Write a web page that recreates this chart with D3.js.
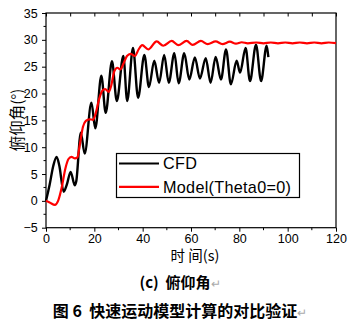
<!DOCTYPE html>
<html><head><meta charset="utf-8">
<script src="https://cdn.jsdelivr.net/npm/d3@7"></script>
<style>body{margin:0;background:#fff}svg{display:block}text{white-space:pre}</style>
</head><body><svg id="c" width="351" height="329"></svg>
<script>
// CFD series [time(s), pitch angle(deg)]
const cfdData = [[0,0],[1.5,3],[3,6.5],[4.4,8.2],[5.5,6.6],[7.3,1.7],[8.6,3],[10.2,5.4],[11.9,2.9],[12.5,3.6],[14.4,12.7],[16,8.8],[18.8,18.3],[20.4,13.5],[22.9,23.3],[24.7,16.4],[27.3,26],[29.3,18.6],[32,27],[33.6,18.6],[36,28.5],[38.1,19.2],[40.7,27.2],[42.6,21.2],[44.8,26.1],[46.8,22],[48.9,27.2],[50.8,22],[53.1,27.5],[54.9,21.9],[57.2,27.5],[59.3,22.6],[61.6,26.7],[63.7,22.8],[66.1,26.6],[68.1,22],[70.2,26.8],[72.4,22.6],[74.5,28.2],[76.5,21.7],[78.9,26.1],[80.3,23.9],[82.6,28.5],[84.4,22.3],[86.9,29.1],[89,22.3],[91.3,28.9],[92,26.8]];
// Model(Theta0=0) series
const modelData = [[0,0],[1.5,-0.3],[3.7,-0.75],[5,0],[6.5,2.5],[8,6],[9.3,7.8],[10.5,8.2],[12,7.9],[13,8.1],[14,10.5],[15.3,13.8],[16.5,14.9],[18,15.2],[19.5,15.1],[20.5,16.2],[22,19],[23.3,20.5],[24.5,20.8],[26,20.3],[27,21.5],[28.3,24.2],[29.5,24.8],[30.8,24.5],[32,25.5],[33.5,27],[35,27.4],[36.8,27],[38.3,28.2],[39.8,29],[42.3,28.2],[45.8,29.7],[48.5,28.9],[52,29.8],[54.7,29],[58.2,29.8],[60.7,29.05],[64.1,29.8],[66.9,29.2],[70.2,29.7],[73,29.2],[76.1,29.65],[78.6,29.3],[81,29.55],[83.5,29.35],[87,29.5],[90,29.35],[93,29.5],[96,29.35],[99,29.5],[102,29.35],[105,29.5],[108,29.35],[111,29.5],[114,29.35],[117,29.5],[120,29.4]];
const xTicks = [0,20,40,60,80,100,120];
const yTicks = [-5,0,5,10,15,20,25,30,35];
const seriesNames = ["CFD","Model(Theta0=0)"];
const seriesColors = ["#000000","#ff0000"];
const xTitle = "时 间(s)";
const yTitle = "俯仰角(°)";
const subCaption = "(c)  俯仰角";
const caption = "图 6  快速运动模型计算的对比验证";

const svg = d3.select("#c");
const L=46, R=336, T=13, B=227.7;
const x = d3.scaleLinear().domain([0,120]).range([L,R]);
const y = d3.scaleLinear().domain([-5,35]).range([B,T]);
const font = "'Liberation Sans', Arial, sans-serif";
const cjk = "'Noto Sans CJK SC', sans-serif";

// frame
svg.append("rect").attr("x",L).attr("y",T).attr("width",R-L).attr("height",B-T)
  .attr("fill","none").attr("stroke","#000").attr("stroke-width",1.2);

// bottom axis
const xMinor = d3.range(0,121,10);
const gx = svg.append("g").attr("transform",`translate(0,${B})`);
gx.call(d3.axisBottom(x).tickValues(xTicks).tickSize(4).tickPadding(2).tickFormat(d3.format("d")));
gx.append("g").selectAll("line").data(xMinor.filter(d=>!xTicks.includes(d))).join("line")
  .attr("x1",d=>x(d)).attr("x2",d=>x(d)).attr("y1",0).attr("y2",2.5).attr("stroke","#000");
gx.select(".domain").remove();
gx.selectAll("text").attr("font-family",font).attr("font-size",12.5).attr("fill","#000");
gx.selectAll(".tick line").attr("stroke","#000");

// top axis ticks inward
const gt = svg.append("g").attr("transform",`translate(0,${T})`);
gt.call(d3.axisTop(x).tickValues(xMinor).tickSize(-3.5).tickFormat(""));
gt.select(".domain").remove();

// left axis
const yMinor = d3.range(-5,35.1,2.5);
const gy = svg.append("g").attr("transform",`translate(${L},0)`);
gy.call(d3.axisLeft(y).tickValues(yTicks).tickSize(4).tickFormat(d3.format("d")));
gy.append("g").selectAll("line").data(yMinor.filter(d=>!yTicks.includes(d))).join("line")
  .attr("y1",d=>y(d)).attr("y2",d=>y(d)).attr("x1",0).attr("x2",-2.5).attr("stroke","#000");
gy.select(".domain").remove();
gy.selectAll("text").attr("font-family",font).attr("font-size",12.5).attr("fill","#000").attr("dx","-0.1em");

// lines
const line = d3.line().x(d=>x(d[0])).y(d=>y(d[1])).curve(d3.curveMonotoneX);
svg.append("path").datum(cfdData).attr("d",line).attr("fill","none")
  .attr("stroke",seriesColors[0]).attr("stroke-width",2.4).attr("stroke-linejoin","round");
svg.append("path").datum(modelData).attr("d",line).attr("fill","none")
  .attr("stroke",seriesColors[1]).attr("stroke-width",2.2).attr("stroke-linejoin","round");

// legend
const lg = svg.append("g");
lg.append("rect").attr("x",116.5).attr("y",153.5).attr("width",183).attr("height",44)
  .attr("fill","#fff").attr("stroke","#000").attr("stroke-width",1.2);
seriesNames.forEach((n,i)=>{
  const yy = 163.5 + i*23.3;
  lg.append("line").attr("x1",119).attr("x2",159).attr("y1",yy).attr("y2",yy)
    .attr("stroke",seriesColors[i]).attr("stroke-width",2.2);
  lg.append("text").attr("x",163).attr("y",yy).attr("dy","0.36em")
    .attr("font-family",font).attr("font-size",16.2).attr("letter-spacing",0.3).text(n);
});

// axis titles
svg.append("text").attr("transform",`translate(18,120) rotate(-90)`).attr("text-anchor","middle")
  .attr("font-family",cjk).attr("font-size",15.5).attr("dy","0.35em").text(yTitle);
svg.append("text").attr("x",195).attr("y",256).attr("text-anchor","middle").attr("dy","0.35em")
  .attr("font-family",cjk).attr("font-size",14.5).text(xTitle);

// captions
const c1 = svg.append("text").attr("x",180).attr("y",283).attr("text-anchor","middle").attr("dy","0.35em")
  .attr("font-family",cjk).attr("font-size",15).attr("font-weight","bold");
c1.append("tspan").text(subCaption);
c1.append("tspan").attr("fill","#aaa").attr("font-weight","normal").attr("font-size",12).text("↵");
const c2 = svg.append("text").attr("x",180).attr("y",311).attr("text-anchor","middle").attr("dy","0.35em")
  .attr("font-family",cjk).attr("font-size",16).attr("font-weight","bold");
c2.append("tspan").text(caption);
c2.append("tspan").attr("fill","#aaa").attr("font-weight","normal").attr("font-size",12).text("↵");
</script></body></html>
